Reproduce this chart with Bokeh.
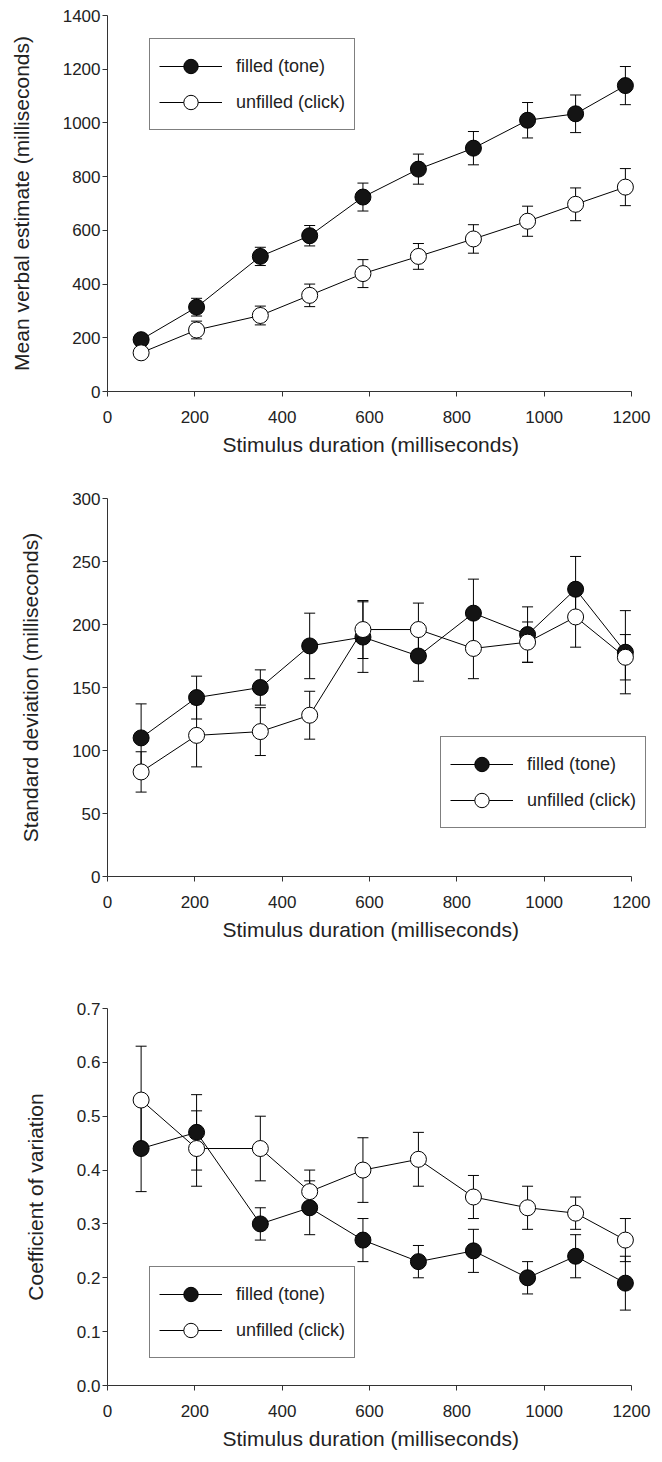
from bokeh.plotting import figure
from bokeh.layouts import column
from bokeh.models import (Range1d, FixedTicker, PrintfTickFormatter, Whisker, TeeHead,
                          ColumnDataSource, Legend, LegendItem, Title)
from bokeh.embed import file_html
from bokeh.resources import INLINE

# ---------------- data ----------------
durations = [77, 204, 350, 463, 585, 712, 838, 962, 1072, 1186]
x_ticks = [0, 200, 400, 600, 800, 1000, 1200]

# panel 1: mean verbal estimate
filled_mean = [193, 314, 503, 580, 724, 828, 906, 1010, 1034, 1139]
filled_mean_err = [20, 33, 34, 38, 52, 56, 62, 66, 70, 71]
unfilled_mean = [144, 229, 283, 358, 439, 503, 568, 634, 697, 761]
unfilled_mean_err = [20, 33, 35, 42, 52, 48, 53, 56, 61, 69]
mean_ticks = [0, 200, 400, 600, 800, 1000, 1200, 1400]

# panel 2: standard deviation
filled_sd = [110, 142, 150, 183, 190, 175, 209, 192, 228, 178]
filled_sd_err = [27, 17, 14, 26, 28, 20, 27, 22, 26, 33]
unfilled_sd = [83, 112, 115, 128, 196, 196, 181, 186, 206, 174]
unfilled_sd_err = [16, 25, 19, 19, 23, 21, 24, 16, 24, 18]
sd_ticks = [0, 50, 100, 150, 200, 250, 300]

# panel 3: coefficient of variation
filled_cv = [0.44, 0.47, 0.30, 0.33, 0.27, 0.23, 0.25, 0.20, 0.24, 0.19]
filled_cv_err = [0.08, 0.07, 0.03, 0.05, 0.04, 0.03, 0.04, 0.03, 0.04, 0.05]
unfilled_cv = [0.53, 0.44, 0.44, 0.36, 0.40, 0.42, 0.35, 0.33, 0.32, 0.27]
unfilled_cv_err = [0.10, 0.07, 0.06, 0.04, 0.06, 0.05, 0.04, 0.04, 0.03, 0.04]
cv_ticks = [0.0, 0.1, 0.2, 0.3, 0.4, 0.5, 0.6, 0.7]

labels = ["filled (tone)", "unfilled (click)"]
x_title = "Stimulus duration (milliseconds)"

FONT = "Liberation Sans"
TXT = "#222222"
AX = "#333333"
W = 662
X_LEFT = 107          # pixel of x = 0
X_AXIS_END = 631      # pixel of x = 1200
# the plotting frame runs to the right edge so that the legend is not clipped;
# the axis itself is bounded to 0..1200
X_MAX = 1200 * (W - X_LEFT) / (X_AXIS_END - X_LEFT)


def panel(height, border_top, border_bottom, ymax, yticks, ytitle, fm, fe, um, ue,
          legend_xy, fmt=None):
    p = figure(width=W, height=height, x_range=Range1d(0, X_MAX), y_range=Range1d(0, ymax),
               output_backend="svg", toolbar_location=None,
               min_border_left=X_LEFT, min_border_right=0,
               min_border_top=border_top, min_border_bottom=border_bottom)
    p.outline_line_color = None
    p.xgrid.visible = False
    p.ygrid.visible = False
    p.background_fill_color = "white"
    p.border_fill_color = "white"

    for ax in (p.xaxis[0], p.yaxis[0]):
        ax.axis_line_color = AX
        ax.major_tick_line_color = AX
        ax.minor_tick_line_color = None
        ax.major_tick_in = 0
        ax.major_tick_out = 5
        ax.major_label_text_font = FONT
        ax.major_label_text_font_size = "17px"
        ax.major_label_text_color = TXT
        ax.axis_label_text_font = FONT
        ax.axis_label_text_font_size = "21px"
        ax.axis_label_text_font_style = "normal"
        ax.axis_label_text_color = TXT
    p.xaxis.ticker = FixedTicker(ticks=x_ticks)
    p.xaxis.bounds = (0, 1200)
    p.yaxis.ticker = FixedTicker(ticks=yticks)
    if fmt:
        p.yaxis.formatter = PrintfTickFormatter(format=fmt)
    p.yaxis.axis_label = ytitle
    p.xaxis.major_label_standoff = 14
    p.yaxis.major_label_standoff = 2
    p.yaxis.axis_label_standoff = 27

    # x-axis title, centred under the 0..1200 axis (not under the wider frame)
    xt = Title(text=x_title, align="left", offset=115, standoff=11,
               text_font=FONT, text_font_size="21px", text_font_style="normal",
               text_color=TXT)
    p.add_layout(xt, "below")

    rends = []
    for mean, err, fill in ((fm, fe, "#141414"), (um, ue, "white")):
        src = ColumnDataSource(dict(x=durations, y=mean,
                                    lower=[m - e for m, e in zip(mean, err)],
                                    upper=[m + e for m, e in zip(mean, err)]))
        wh = Whisker(source=src, base="x", lower="lower", upper="upper", dimension="height",
                     line_color="black", line_width=1,
                     upper_head=TeeHead(size=11, line_color="black", line_width=1),
                     lower_head=TeeHead(size=11, line_color="black", line_width=1))
        p.add_layout(wh)
        ln = p.line("x", "y", source=src, line_color="black", line_width=1)
        sc = p.scatter("x", "y", source=src, marker="circle", size=16,
                       fill_color=fill, line_color="black", line_width=1)
        rends.append((ln, sc))

    items = [LegendItem(label=labels[i], renderers=list(rends[i])) for i in range(2)]
    leg = Legend(items=items, location=legend_xy, margin=0, padding=9, spacing=0,
                 glyph_width=63, glyph_height=36, label_height=36, label_standoff=14,
                 label_text_font=FONT, label_text_font_size="18px", label_text_color=TXT,
                 border_line_color="black", border_line_width=1,
                 background_fill_color="white", background_fill_alpha=1)
    p.add_layout(leg)
    return p


p1 = panel(470, 15, 79, 1400, mean_ticks, "Mean verbal estimate (milliseconds)",
           filled_mean, filled_mean_err, unfilled_mean, unfilled_mean_err, (42, 261))
p2 = panel(490, 28, 84, 300, sd_ticks, "Standard deviation (milliseconds)",
           filled_sd, filled_sd_err, unfilled_sd, unfilled_sd_err, (333, 48))
p3 = panel(502, 48, 77, 0.7, cv_ticks, "Coefficient of variation",
           filled_cv, filled_cv_err, unfilled_cv, unfilled_cv_err, (42, 27), fmt="%.1f")

layout = column(p1, p2, p3, spacing=0)
open("out.html", "w").write(file_html(layout, INLINE))
